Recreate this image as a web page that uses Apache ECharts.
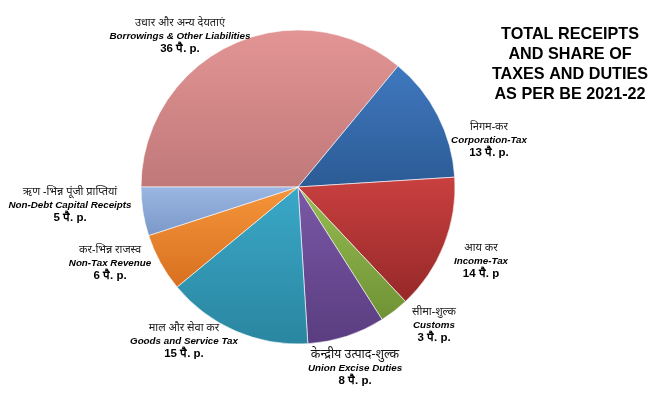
<!DOCTYPE html>
<html><head><meta charset="utf-8">
<script src="https://cdn.jsdelivr.net/npm/echarts@6/dist/echarts.min.js"></script>
<style>html,body{margin:0;padding:0;background:#fff}#c{width:660px;height:395px}</style>
</head><body><div id="c"></div>
<script>
const categories = ["Borrowings & Other Liabilities","Corporation-Tax","Income-Tax","Customs","Union Excise Duties","Goods and Service Tax","Non-Tax Revenue","Non-Debt Capital Receipts"];
const hindiNames = ["उधार और अन्य देयताएं","निगम-कर","आय कर","सीमा-शुल्क","केन्द्रीय उत्पाद-शुल्क","माल और सेवा कर","कर-भिन्न राजस्व","ऋण -भिन्न पूंजी प्राप्तियां"];
const values = [36,13,14,3,8,15,6,5];
const valueLabels = ["36 पै. p.","13 पै. p.","14 पै. p","3 पै. p.","8 पै. p.","15 पै. p.","6 पै. p.","5 पै. p."];
const titleLines = ["TOTAL RECEIPTS","AND SHARE OF","TAXES AND DUTIES","AS PER BE 2021-22"];

const palette = [["#e39595","#c07878"],["#3f78bf","#2c5b95"],["#c94040","#962828"],["#97bd52","#6f9235"],["#7a58a6","#5a3d80"],["#3aa8c8","#2a86a0"],["#f5953a","#d87020"],["#9ab6e2","#7a98c8"]];
const labelPos = [[180,36],[489,140],[481,261],[434,325],[355,367],[184,341],[110,263],[70,205]];

const chart = echarts.init(document.getElementById('c'));
chart.setOption({
  animation:false,
  title:{text:titleLines.join('\n'),left:565,top:20,textAlign:'center',
    textStyle:{fontFamily:'Liberation Sans, Arial',fontSize:16.2,fontWeight:'bold',color:'#000',lineHeight:20}},
  series:[{
    type:'pie',center:[298,187],radius:157,startAngle:180,clockwise:true,
    itemStyle:{borderColor:'rgba(255,255,255,0.6)',borderWidth:1},
    labelLine:{show:false},
    label:{show:true,position:'outside',align:'center',overflow:'none',
      formatter:p=>'{'+(p.dataIndex===4?'hx':'h')+'|'+hindiNames[p.dataIndex]+'}\n{e|'+categories[p.dataIndex]+'}\n{v|'+valueLabels[p.dataIndex]+'}',
      rich:{
        h:{fontFamily:'Noto Sans, sans-serif',fontSize:11,fontStyle:'italic',color:'#222',lineHeight:13,align:'center'},
        hx:{fontFamily:'Noto Sans, sans-serif',fontSize:12.5,color:'#111',lineHeight:15,align:'center'},
        e:{fontFamily:'Liberation Sans, Arial',fontSize:9.8,fontStyle:'italic',fontWeight:'bold',color:'#000',lineHeight:13,align:'center'},
        v:{fontFamily:'Liberation Sans, Arial',fontSize:11.5,fontWeight:'bold',color:'#000',lineHeight:13,align:'center'}
      }},
    labelLayout:p=>({x:labelPos[p.dataIndex][0],y:labelPos[p.dataIndex][1],align:'center',verticalAlign:'middle'}),
    data:values.map((v,i)=>({name:categories[i],value:v,
      itemStyle:{color:new echarts.graphic.LinearGradient(0,0,0,1,[{offset:0,color:palette[i][0]},{offset:1,color:palette[i][1]}])}}))
  }]
});
</script></body></html>
